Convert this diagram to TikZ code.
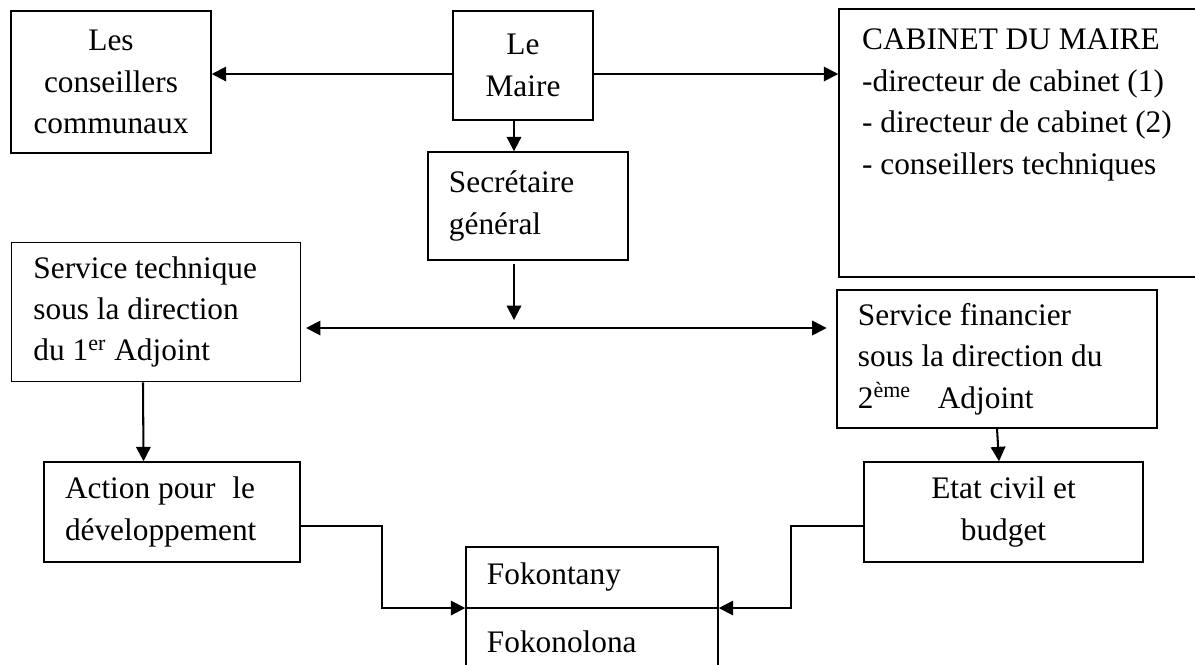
\documentclass[tikz,border=0pt]{standalone}
\usepackage{fontspec}
\setmainfont{Liberation Serif}
\usetikzlibrary{arrows.meta,calc}

\begin{document}
\begin{tikzpicture}[
    x=0.415pt, y=-0.415pt,
    >={Triangle[length=6pt,width=6pt]},
    box/.style={draw, line width=0.6pt, inner ysep=0pt,
                font=\fontsize{13}{17.2}\selectfont},
    lbox/.style={box, align=flush left, inner xsep=8.7pt},
    cbox/.style={box, align=flush center, inner xsep=0pt},
    link/.style={->, line width=0.85pt},
  ]
  \useasboundingbox (0,0) rectangle (1195,664);

  % --- top row ---
  \node[cbox, minimum width=83pt, minimum height=58.9pt] (cons) at (111,82)
    {Les\\conseillers\\communaux};
  \node[cbox, minimum width=58.1pt, minimum height=45.2pt] (maire) at (523,65.5)
    {Le\\Maire};
  \node[lbox, line width=0.85pt, inner xsep=9.5pt, text width=136pt,
        minimum height=111.2pt] (cab) at (1026,143)
    {CABINET DU MAIRE\\-directeur de cabinet (1)\\- directeur de cabinet (2)\\- conseillers techniques\\~\\~};

  \node[lbox, text width=65.6pt, minimum height=44.8pt] (sg) at (528,206)
    {Secrétaire\\général};

  % --- services ---
  \node[lbox, inner xsep=9.1pt, text width=101.7pt, minimum height=57.7pt] (tech) at (156,312)
    {Service technique\\sous la direction\\du 1\textsuperscript{er} Adjoint};
  \node[lbox, text width=115.4pt, minimum height=57.3pt] (fin) at (997,359)
    {Service financier\\sous la direction du\\2\textsuperscript{ème}\hspace{11pt}Adjoint};

  \node[lbox, text width=88.8pt, minimum height=41.5pt] (act) at (172,512)
    {Action pour\hspace{7pt}le\\développement};
  \node[cbox, minimum width=115.8pt, minimum height=41.5pt] (etat) at (1003.5,512)
    {Etat civil et\\budget};

  % --- bottom ---
  \node[lbox, text width=87.2pt, minimum height=50.6pt] (fok) at (592,608)
    {Fokontany\\[11pt]Fokonolona};
  \draw[line width=0.6pt] (fok.west) -- (fok.east);

  % --- arrows ---
  \coordinate (mline) at ($(maire.west)+(0,8.5)$);
  \coordinate (hub) at (514,328);
  \draw[link] (mline) -- (cons.east |- mline);
  \draw[link] (maire.east |- mline) -- (cab.west |- mline);
  \draw[link] (maire.south -| hub) -- (sg.north -| hub);
  \draw[link, shorten <=1.2pt, shorten >=3.3pt] (sg.south -| hub) -- (hub);
  \draw[<->, line width=0.85pt, shorten <=2pt, shorten >=4pt]
    (tech.east |- hub) -- (fin.west |- hub);

  \draw[link] ($(tech.south)+(-13,0)$) -- ($(act.north)+(-28.5,0)$);
  \draw[link] (fin.south) -- ($(etat.north)+(-4.5,0)$);

  \draw[link] ($(act.east)+(0,14)$) -| ($(fok.west)+(-83,0)$) -- (fok.west);
  \draw[link] ($(etat.west)+(0,14)$) -| ($(fok.east)+(72,0)$) -- (fok.east);

\end{tikzpicture}
\end{document}
